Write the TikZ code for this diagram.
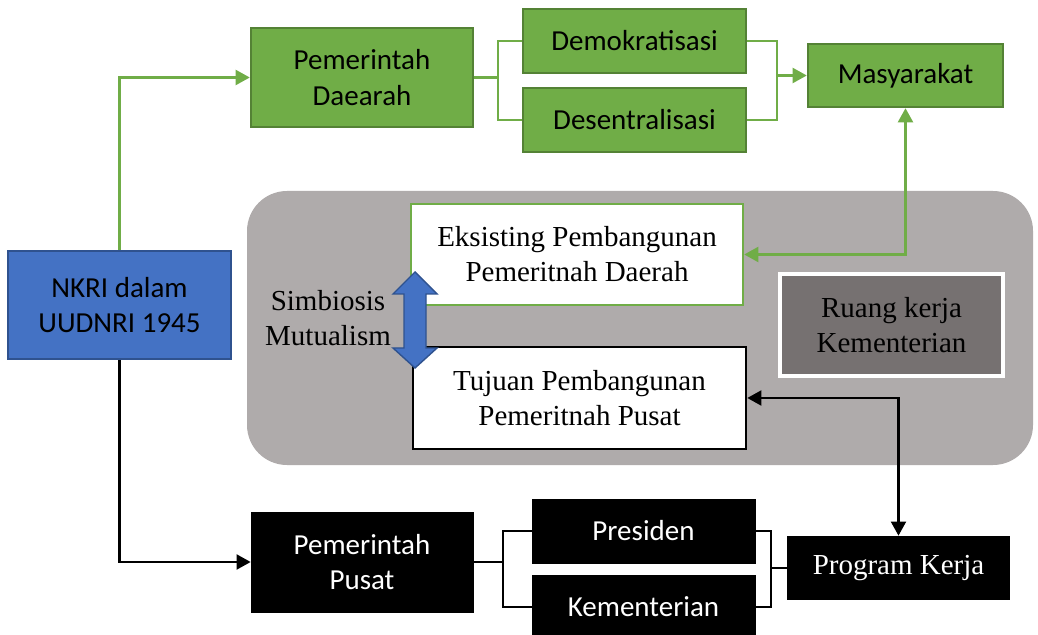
\documentclass[tikz,border=0pt]{standalone}
\usepackage{fontspec}
\setmainfont{Liberation Serif}
\newfontfamily\calibri{Carlito}
\usepackage{tikz}
\usetikzlibrary{arrows.meta}
\definecolor{hijau}{HTML}{70AD47}
\definecolor{hijaugelap}{HTML}{548235}
\definecolor{biru}{HTML}{4472C4}
\definecolor{birugelap}{HTML}{2F528F}
\definecolor{abu}{HTML}{AFABAB}
\definecolor{abugelap}{HTML}{767171}

\begin{document}
\begin{tikzpicture}[scale=0.2,
        >={Triangle[length=8pt,width=8.5pt]},
        box/.style={inner sep=0pt, align=center, font=\calibri\fontsize{16.5}{20}\selectfont},
        serifbox/.style={inner sep=0pt, align=center, font=\fontsize{16.5}{20}\selectfont},
        hijaubox/.style={box, draw=hijaugelap, fill=hijau, line width=1.4pt},
        hitambox/.style={box, draw=black, fill=black, text=white},
        kecil/.style={minimum width=4.46cm, minimum height=1.28cm},
        hijauline/.style={draw=hijau, line width=1.3pt},
        hitamline/.style={draw=black, line width=1.3pt}]
        \useasboundingbox (0,0) rectangle (103.8,-63.5);
        \fill [abu, rounded corners=0.8cm] (24.7,-19.1) rectangle (103.3,-46.5);
        \node [hijaubox, minimum width=4.44cm, minimum height=1.98cm] (pd) at (36.2,-7.75) {Pemerintah\\Daearah};
        \node [hijaubox, kecil] (demo) at (63.45,-4.1) {Demokratisasi};
        \node [hijaubox, kecil] (desen) at (63.45,-12.0) {Desentralisasi};
        \node [hijaubox, minimum width=3.9cm, minimum height=1.26cm] (masy) at (90.55,-7.55) {Masyarakat};
        \node [serifbox, draw=hijau, fill=white, line width=1.4pt, minimum width=6.64cm, minimum height=2.02cm] (eks) at (57.7,-25.45) {Eksisting Pembangunan\\Pemeritnah Daerah};
        \node [serifbox, draw=black, fill=white, line width=1.5pt, minimum width=6.66cm, minimum height=2.04cm] (tuj) at (57.95,-39.8) {Tujuan Pembangunan\\Pemeritnah Pusat};
        \node [serifbox, draw=white, fill=abugelap, line width=2.3pt, minimum width=4.46cm, minimum height=2.04cm] (ruang) at (89.15,-32.5) {Ruang kerja\\Kementerian};
        \node [box, draw=birugelap, fill=biru, line width=1.4pt, minimum width=4.46cm, minimum height=2.16cm] (nkri) at (11.95,-30.5) {NKRI dalam\\UUDNRI 1945};
        \node [hitambox, minimum width=4.44cm, minimum height=2cm] (pp) at (36.2,-56.2) {Pemerintah\\Pusat};
        \node [hitambox, kecil] (pres) at (64.35,-53.1) {Presiden};
        \node [hitambox, kecil] (kem) at (64.35,-60.7) {Kementerian};
        \node [serifbox, fill=black, text=white, kecil] (prog) at (89.85,-56.8) {Program Kerja};
        \node [serifbox] (simb) at (32.8,-31.8) {Simbiosis\\Mutualism};
        \coordinate (kiri1) at (49.8,-7.75);
        \coordinate (kanan1) at (77.7,-7.55);
        \coordinate (kiri2) at (50.3,-56.2);
        \coordinate (kanan2) at (77.1,-56.8);
        \draw [hijauline, ->] (nkri.north) |- (pd.west);
        \draw [hijauline] (pd.east) -- (kiri1);
        \draw [hijauline] (demo.west) -| (kiri1) |- (desen.west);
        \draw [hijauline] (demo.east) -| (kanan1) |- (desen.east);
        \draw [hijauline, ->] (kanan1) -- (masy.west);
        \draw [hijauline, <->] (eks.east) -| (masy.south);
        \draw [hitamline, ->] (nkri.south) |- (pp.west);
        \draw [hitamline] (pp.east) -- (kiri2);
        \draw [hitamline] (pres.west) -| (kiri2) |- (kem.west);
        \draw [hitamline] (pres.east) -| (kanan2) |- (kem.east);
        \draw [hitamline] (kanan2) -- (prog.west);
        \draw [hitamline, <->] (tuj.east) -| (prog.north);
        \draw [birugelap, fill=biru, line width=0.8pt, line join=miter] (41.5,-27.2) -- (43.7,-29.4) -- (42.6,-29.4) -- (42.6,-34.8) -- (43.7,-34.8) -- (41.5,-36.8) -- (39.3,-34.8) -- (40.4,-34.8) -- (40.4,-29.4) -- (39.3,-29.4) -- cycle;
\end{tikzpicture}
\end{document}
